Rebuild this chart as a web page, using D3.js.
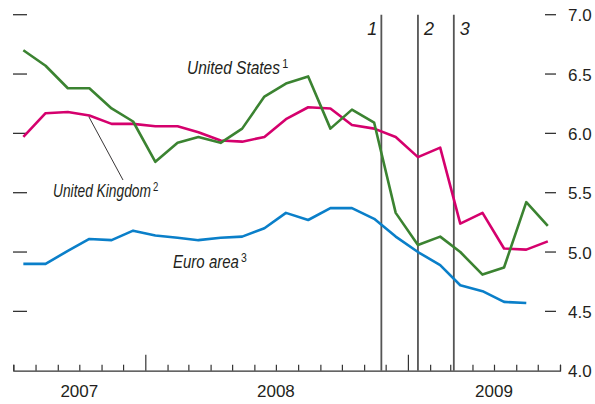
<!DOCTYPE html>
<html>
<head>
<meta charset="utf-8">
<script src="https://cdn.jsdelivr.net/npm/d3@7"></script>
<style>
  body { margin: 0; background: #fff; }
  text { font-family: "Liberation Sans", Arial, sans-serif; fill: #231f20; }
  .lbl { font-style: italic; }
</style>
</head>
<body>
<div id="chart"></div>
<script>
// months (mid-month observations)
let months = ["2007-07", "2007-08", "2007-09", "2007-10", "2007-11", "2007-12",
    "2008-01", "2008-02", "2008-03", "2008-04", "2008-05", "2008-06",
    "2008-07", "2008-08", "2008-09", "2008-10", "2008-11", "2008-12",
    "2009-01", "2009-02", "2009-03", "2009-04", "2009-05", "2009-06", "2009-07"];

let usRates = [6.70, 6.57, 6.38, 6.38, 6.21, 6.10, 5.76, 5.92, 5.97, 5.92, 6.04, 6.31,
    6.42, 6.48, 6.04, 6.20, 6.09, 5.33, 5.06, 5.13, 5.00, 4.81, 4.87, 5.42, 5.22];

let ukRates = [5.97, 6.17, 6.18, 6.15, 6.08, 6.08, 6.06, 6.06, 6.01, 5.94, 5.93, 5.97,
    6.12, 6.22, 6.21, 6.07, 6.04, 5.97, 5.80, 5.88, 5.24, 5.33, 5.03, 5.02, 5.09];

let euroRates = [4.90, 4.90, 5.01, 5.11, 5.10, 5.18, 5.14, 5.12, 5.10, 5.12, 5.13, 5.20,
    5.33, 5.27, 5.37, 5.37, 5.28, 5.13, 5.00, 4.89, 4.72, 4.67, 4.58, 4.57];

let yTicks = [4.0, 4.5, 5.0, 5.5, 6.0, 6.5, 7.0];
let years = ["2007", "2008", "2009"];
let yearLabelAt = ["2007-10-01", "2008-07-01", "2009-05-01"];
let events = ["1", "2", "3"];
let eventDates = ["2008-11-25", "2009-01-15", "2009-03-06"];

let width = 595, height = 404;
let parseMonth = d3.timeParse("%Y-%m");
let parseDay = d3.timeParse("%Y-%m-%d");

let svg = d3.select('#chart')
    .append('svg')
        .attr('width', width)
        .attr('height', height);

let x = d3.scaleTime()
    .domain([new Date(2007, 6, 1), new Date(2009, 7, 1)])
    .range([13.3, 560]);
let y = d3.scaleLinear().domain([4, 7]).range([370.7, 14.7]);

let mid = function (m) {
    let d = parseMonth(m);
    return new Date(d.getFullYear(), d.getMonth(), 15);
};

// x axis: monthly ticks pointing up
let monthTicks = d3.timeMonth.range(new Date(2007, 6, 1), new Date(2009, 7, 2));
let xAxis = d3.axisBottom(x)
    .tickValues(monthTicks)
    .tickSizeInner(-6)
    .tickSizeOuter(-6)
    .tickFormat("");
let xg = svg.append('g')
    .attr('transform', 'translate(0,' + y(4) + ')')
    .call(xAxis);
xg.selectAll('path, line').attr('stroke', '#333').attr('stroke-width', 1.2);
xg.selectAll('.tick line')
    .filter(function (d) { return d.getMonth() === 0; })
    .attr('y2', -16);

svg.selectAll('.year')
    .data(years)
    .enter().append('text')
        .attr('x', function (d, i) { return x(parseDay(yearLabelAt[i])); })
        .attr('y', 397)
        .attr('text-anchor', 'middle')
        .attr('font-size', '17px')
        .text(function (d) { return d; });

// y ticks (left marks, right marks + labels)
svg.selectAll('.lt')
    .data(yTicks.filter(function (d) { return d > 4; }))
    .enter().append('line')
        .attr('x1', 13).attr('x2', 27)
        .attr('y1', function (d) { return y(d); })
        .attr('y2', function (d) { return y(d); })
        .attr('stroke', '#333').attr('stroke-width', 1.3);

svg.selectAll('.rt')
    .data(yTicks.filter(function (d) { return d > 4; }))
    .enter().append('line')
        .attr('x1', 545).attr('x2', 556)
        .attr('y1', function (d) { return y(d); })
        .attr('y2', function (d) { return y(d); })
        .attr('stroke', '#333').attr('stroke-width', 1.3);

svg.selectAll('.rl')
    .data(yTicks)
    .enter().append('text')
        .attr('x', 568)
        .attr('y', function (d) { return y(d) + 6.5; })
        .attr('font-size', '17px')
        .text(function (d) { return d.toFixed(1); });

// event lines
svg.selectAll('.ev')
    .data(eventDates)
    .enter().append('line')
        .attr('x1', function (d) { return x(parseDay(d)); })
        .attr('x2', function (d) { return x(parseDay(d)); })
        .attr('y1', y(7)).attr('y2', y(4))
        .attr('stroke', '#555').attr('stroke-width', 1.8);

svg.selectAll('.evl')
    .data(events)
    .enter().append('text')
        .attr('class', 'lbl')
        .attr('x', function (d, i) { return x(parseDay(eventDates[i])) + (i === 0 ? -4 : 6); })
        .attr('y', 35)
        .attr('text-anchor', function (d, i) { return i === 0 ? 'end' : 'start'; })
        .attr('font-size', '18px')
        .text(function (d) { return d; });

// series
let line = d3.line()
    .x(function (d) { return x(mid(d.m)); })
    .y(function (d) { return y(d.v); });

let series = [
    { values: ukRates, color: '#d5006d' },
    { values: usRates, color: '#3b8331' },
    { values: euroRates, color: '#0a7fc9' }
];

series.forEach(function (s) {
    let pts = s.values.map(function (v, i) { return { m: months[i], v: v }; });
    svg.append('path')
        .datum(pts)
        .attr('fill', 'none')
        .attr('stroke', s.color)
        .attr('stroke-width', 2.6)
        .attr('stroke-linejoin', 'round')
        .attr('d', line);
});

// labels: condensed italic, made by squeezing the group horizontally
function seriesLabel(txt, sup, xPos, yPos, len) {
    let g = svg.append('g');
    let t = g.append('text')
        .attr('class', 'lbl')
        .attr('font-size', '18px')
        .text(txt);
    let w = t.node().getComputedTextLength();
    g.append('text')
        .attr('x', w + 2.5)
        .attr('y', -6)
        .attr('font-size', '12.5px')
        .text(sup);
    g.attr('transform', 'translate(' + xPos + ',' + yPos + ') scale(' + (len / w) + ',1)');
}

seriesLabel("United States", "1", 187, 74, 93);
seriesLabel("United Kingdom", "2", 53, 197, 98);
seriesLabel("Euro area", "3", 173, 268, 66);

// leader line for United Kingdom
svg.append('line')
    .attr('x1', x(mid("2007-10")) - 0.5).attr('y1', y(6.14))
    .attr('x2', 123).attr('y2', 180)
    .attr('stroke', '#231f20').attr('stroke-width', 0.9);
</script>
</body>
</html>
